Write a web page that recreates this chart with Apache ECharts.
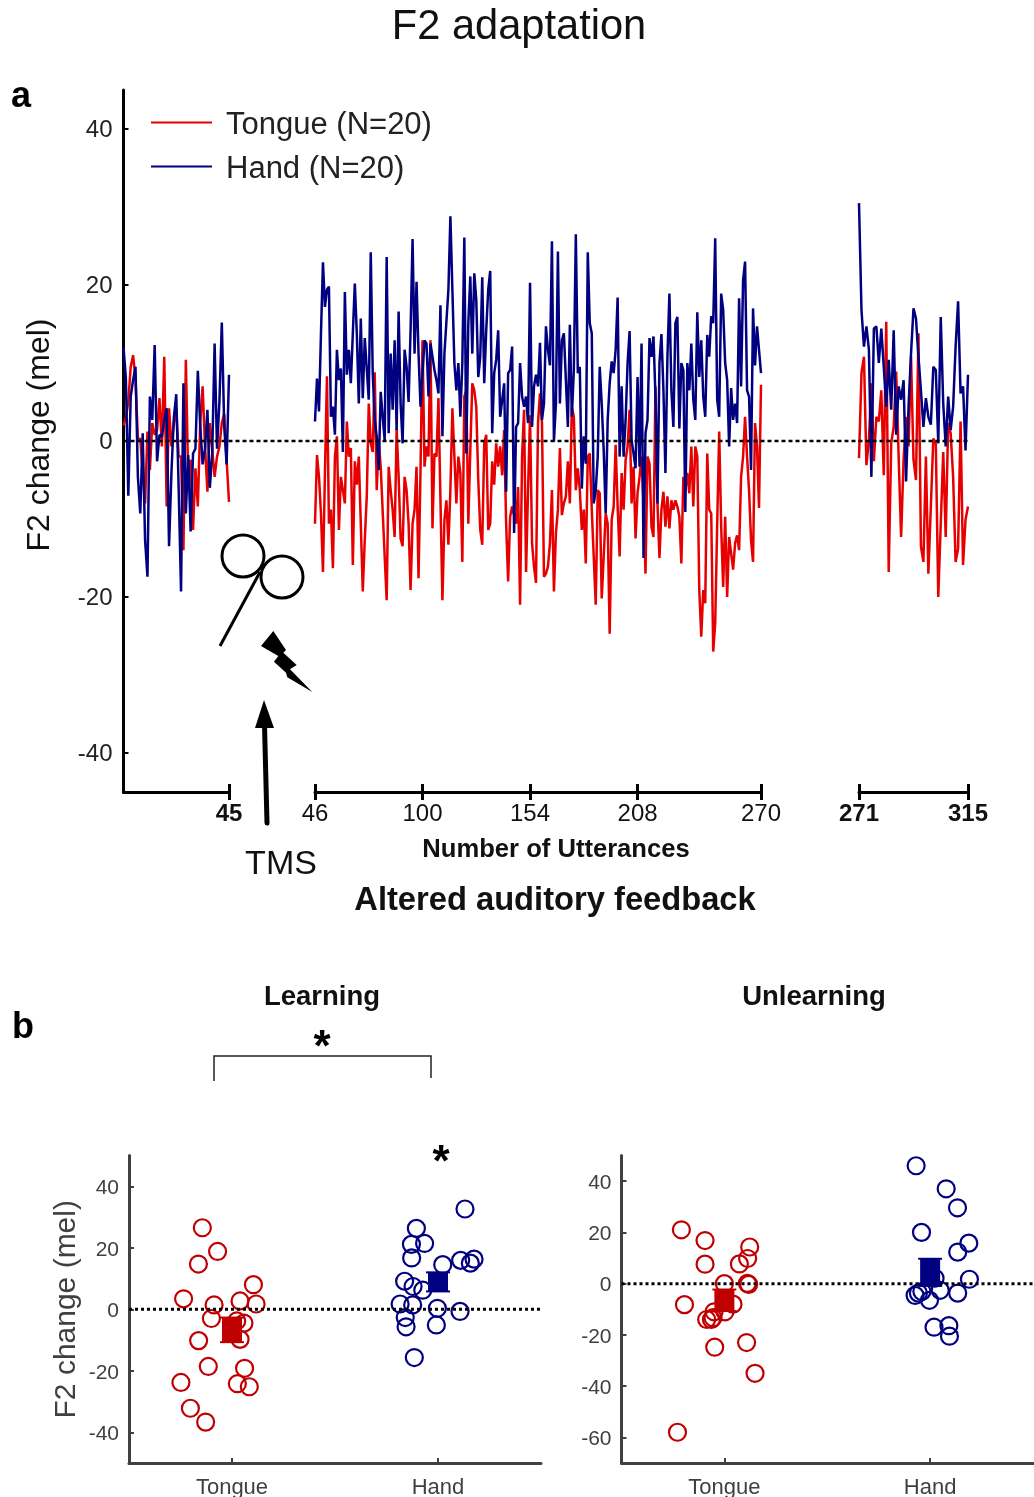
<!DOCTYPE html>
<html>
<head>
<meta charset="utf-8">
<style>html,body{margin:0;padding:0;background:#fff}#c{width:1034px;height:1497px}</style>
<script src="https://cdn.jsdelivr.net/npm/echarts@6/dist/echarts.min.js"></script>
</head>
<body>
<div id="c"></div>
<script>
const preHand = [12,8,-7,5.7,7.8,9.5,-4.6,-9.3,1,-12.7,-17.4,5.7,2.7,12.3,-2.6,0.8,0.5,2.7,4.2,-13.5,-4,3,6,-6,-19.3,7.4,-9.3,-1.8,-11.6,-1.6,-1,9,2,-3,-1,4,-6,-1.6,12.5,-1,5,15.2,2,-3,8.5];
const preTongue = [2,3,5,9.5,11,8,0.3,0.3,-4,-8,1.2,-3.7,2.3,0.8,1.4,5.5,-0.7,10.8,-8.4,4.2,-0.7,2.3,4,-2,-2,-14,10.4,-5,-2.4,-11.4,-3.5,-8.4,2.3,7,-0.7,-6.5,2.3,-1,-4.6,-2,-0.7,2.3,3.5,-2.4,-7.8];
const adaptHand = [2.5,8,3.8,13.8,22.9,17.2,19.4,19.8,3.1,4.4,0.8,11.7,7.8,9.3,-1.4,19.1,8.5,11.7,7.4,13.8,20.2,13.8,4.8,15.7,5.5,13.2,13.2,5.3,24.2,8.7,2.7,0.6,-3.7,6.3,3.1,0.1,23.6,1,11.2,4,12.9,1.4,16.6,4.8,-0.3,11.7,9.5,5,14.2,25.9,11.2,20.4,11.2,4.4,4.4,12.9,12.5,5.7,12.5,10.8,9.1,7.8,6.1,
17.4,0.6,11.2,11.2,19.4,28.8,19.4,10,6.5,10,3.1,10,26.1,-1.6,15.1,21.1,11.2,21.5,18.1,8.2,10.8,21,7.4,14.2,19.4,21.8,1,8.7,10.4,14.2,3.1,3.1,7.4,-6.5,8.7,9.1,12.1,-11.8,1.8,2.3,10,5.7,4.4,5.7,2.3,20.3,1.8,7,8.5,7,12.6,2.7,4.8,14.7,11.7,9.7,25.6,-0.1,4.8,24.3,4.8,12.9,13.8,14,1.8,14.9,3.1,9.1,26.5,8.7,9.5,-6.1,0.6,-2.9,24.2,15.1,13.8,-8,-6.3,-2,9.5,4.8,-1.2,-9.3,2.7,7.4,10.2,8.7,11.7,18.4,-2,7,-2,2.7,10,14.1,0.1,-1.6,-3.5,8.2,-3.3,12.5,-15,1,2.7,13.2,10.8,13.4,5.7,-8,10,13.7,6.5,-4.1,10.8,18.9,6.5,1.8,15.1,15.9,1.6,10,9.1,-9.1,10,6.5,12.5,5.3,2.7,16.5,8.2,12.9,5.7,3.1,13.6,10.8,16,15.1,26,5.3,3.1,18.9,16.8,10,7.8,-0.7,6.8,2.7,4.8,2.3,18.3,7,20.6,23,6.5,5.7,-3.7,17,9.7,14.7,11.7,8.7];
const adaptTongue = [-10.6,-1.8,-4.6,-9.3,-16.8,-4.1,8.3,-10.6,-8.8,-16.3,-2,0.6,-11.4,-4.6,-6.3,-8,2.5,-2,-0.9,-15.9,-2.6,-5.6,-2,-1.8,-19.3,-12.7,-7.1,4.8,-0.3,-1.4,8.8,-6.3,0.1,-3.3,-3.3,-14.8,-20.4,-3.3,-6.3,-8.8,-12.3,1.6,-4.6,-12.5,-13.5,-4.6,-6.3,-10.6,-19.1,-10.6,-8.8,-3.3,-17.6,-3.7,12.9,-3.3,-0.7,-2,12.9,-11.2,-1.6,-2,5.5,
5.3,-20.4,-10.1,-7.6,-13.3,-6.3,4.2,4.4,-8,-2,-4.1,-15.5,5.7,6.5,-10.6,-1.2,7.4,6.5,4.4,-5,-11.4,-13.3,-0.3,0.8,-11.4,-10.6,-2.6,-5.6,-0.3,-3.3,-0.7,-4.4,1.4,-10.6,-18,-9.7,-8.4,-8.2,-10.6,-5.9,-21,-2,4,-16.8,-6.3,3.3,-13.1,-16.1,-18.2,2.3,6.1,2.3,-17.4,-17,-16.1,-13.1,-6.3,-19.3,-11.8,-8.8,-0.9,-9.5,-8,-7.1,-2.6,-8,4.4,3.1,-6.3,-3.5,-6.3,-11.4,-8.8,-15.7,-2,-1.6,-8.8,-8.8,-21,-6.3,-6.7,-20.2,-14.8,-9.3,-10.6,-24.7,-10.1,-8.4,-0.5,-8.4,-14.8,-4.1,-8.8,-2.4,-0.7,4,-8,-3.3,-12.5,-6.7,-4.6,-2,-8,-17,-2,-2.9,-11,-12.3,7,-8,-15,-8.8,-6.5,-11,-7.1,-11.2,-7.6,-8.8,-7.6,-8.4,-9.7,-15.7,-4.6,-6.3,-4.1,-6.7,-0.7,-8.4,-0.7,-2,-19.1,-25.1,-19.1,-20.8,-1.6,-8.8,-9.3,-27,-23.4,-10.6,1.2,-11,-18.7,-9.7,-20,-12.3,-12.3,-16.5,-13.1,-12.1,-14,-4.6,-2,3.1,-2,-6.3,-12.7,-15.5,2.3,-0.7,-8.6,7.2];
const postHand = [30.5,16.8,12.1,14.7,11.7,-4.6,14.4,14.7,10,14.4,9.5,4.4,10.4,4,14.2,0.8,7,5.3,7.8,-5.2,4.4,11.2,17,15.7,10.8,6.5,1.8,5.5,3.1,2.1,9.5,9.1,-0.3,15.9,4.8,-0.7,5.7,1.4,4.4,12.1,17.9,6.1,7,-1.2,8.5];
const postTongue = [-2.2,8.7,10.8,-3.1,0.1,7.4,-2.6,3.1,2.5,6.5,-4.4,15.3,-16.8,-0.3,1.8,8.9,-2,-12.3,-2.4,3.1,-0.7,10.8,-2.4,-5,13.8,-13.5,-15.5,-2,-17,-8.4,0.3,-0.3,-20,-10.6,-1.4,-12.3,2.3,1,-4.6,-15.5,-13.8,2.5,-15.9,-10.1,-8.4];
const learnTongue = [[0.856,26.5],[0.93,18.8],[0.837,14.7],[0.765,3.4],[1.104,8],[0.913,1.4],[1.039,2.7],[1.117,1.7],[0.9,-3],[1.058,-4.5],[1.023,-3.8],[0.838,-10.2],[1.039,-9.8],[0.885,-18.6],[1.061,-19.2],[0.752,-23.8],[1.026,-24.2],[1.084,-25.2],[0.798,-32.2],[0.872,-36.7]];
const learnHand = [[2.131,32.6],[1.895,26.3],[1.871,21.1],[1.935,21.4],[1.872,16.7],[2.023,14.5],[2.11,15.9],[2.175,16.3],[2.157,15],[1.838,9.1],[1.879,7.4],[1.926,6.2],[1.816,1.7],[1.877,1.4],[1.997,0.3],[2.107,-0.7],[1.841,-2.7],[1.845,-5.7],[1.992,-5.1],[1.885,-15.7]];
const unlearnTongue = [[0.791,21],[0.906,16.8],[0.906,7.6],[1.123,14.3],[1.113,9.8],[1.073,7.7],[1,0],[1.118,-0.3],[1.112,0.1],[0.806,-8.2],[1.042,-8],[0.95,-11],[1.003,-11],[0.945,-13.3],[0.914,-14],[0.937,-14],[1.108,-23],[0.953,-24.8],[1.149,-35],[0.772,-58]];
const unlearnHand = [[1.932,46],[2.078,37],[2.133,29.6],[1.958,20],[2.188,15.8],[2.134,12.3],[2.191,1.7],[2.024,2.1],[2.049,-2.6],[2.134,-3.7],[1.96,-3.1],[1.943,-3.7],[1.927,-4.6],[1.997,-6.5],[2.019,-17],[2.091,-16.4],[2.094,-20.5]];
const learnMeans = [[1,-6.7,4],[2,8.9,3.1]];
const unlearnMeans = [[1,-6.5,4.2],[2,4.4,5.3]];
const groupLabels = ['Tongue','Hand'];
const nameT = 'Tongue (N=20)', nameH = 'Hand (N=20)';
const RED='#e60000', DRED='#c00000', BLUE='#000080', FONT='"Liberation Sans",Arial,sans-serif';

const pairs=(arr,start)=>arr.map((v,i)=>[start+i,v]);
const chart=echarts.init(document.getElementById('c'),null,{renderer:'canvas'});

const aTop=90,aH=702,bTop=1155.5,bH=307.5;
const segs=[{l:123.5,w:105.5,min:1,max:45,ticks:[45],bold:true,hand:preHand,tongue:preTongue},
            {l:315,w:446,min:46,max:270,ticks:[46,100,154,208,270],bold:false,hand:adaptHand,tongue:adaptTongue},
            {l:859,w:109,min:271,max:315,ticks:[271,315],bold:true,hand:postHand,tongue:postTongue}];
const grid=[],xAxis=[],yAxis=[],series=[];
segs.forEach((s,k)=>{
  grid.push({left:s.l,top:aTop,width:s.w,height:aH,outerBoundsMode:'none'});
  xAxis.push({type:'value',gridIndex:k,min:s.min,max:s.max,position:'bottom',splitLine:{show:false},
    axisLine:{show:true,onZero:false,lineStyle:{color:'#000',width:3}},
    axisTick:{show:true,length:8,customValues:s.ticks,lineStyle:{color:'#000',width:3}},
    axisLabel:{show:true,customValues:s.ticks,margin:10,fontSize:24,fontFamily:FONT,color:'#111',fontWeight:s.bold?'bold':'normal',hideOverlap:false}});
  yAxis.push({type:'value',gridIndex:k,min:-45,max:45,show:k===0,splitLine:{show:false},
    axisLine:{show:true,onZero:false,lineStyle:{color:'#000',width:3}},
    axisTick:{show:true,inside:true,length:5,customValues:[-40,-20,0,20,40],lineStyle:{color:'#000',width:2}},
    axisLabel:{customValues:[-40,-20,0,20,40],formatter:v=>'{a|'+v+'}',margin:11,
      rich:{a:{fontSize:24,fontFamily:FONT,color:'#222',padding:[2,0,0,0]}}}});
  series.push({name:nameT,type:'line',xAxisIndex:k,yAxisIndex:k,data:pairs(s.tongue,s.min),showSymbol:false,symbol:'none',lineStyle:{color:RED,width:2.5},itemStyle:{color:RED},z:2,animation:false});
  series.push({name:nameH,type:'line',xAxisIndex:k,yAxisIndex:k,data:pairs(s.hand,s.min),showSymbol:false,symbol:'none',lineStyle:{color:BLUE,width:2.5},itemStyle:{color:BLUE},z:3,animation:false});
});
// inward half of the ticks that cross the panel-a baseline
segs.forEach((s,k)=>{
  xAxis.push({type:'value',gridIndex:k,min:s.min,max:s.max,position:'bottom',splitLine:{show:false},
    axisLine:{show:false,onZero:false},axisLabel:{show:false},
    axisTick:{show:true,inside:true,length:8,customValues:s.ticks,lineStyle:{color:'#000',width:3}}});
});
// overlay for the dashed zero line across panel a
grid.push({left:123.5,top:aTop,width:844.5,height:aH,outerBoundsMode:'none'});
xAxis.push({type:'value',gridIndex:3,min:0,max:1,show:false,splitLine:{show:false}});
yAxis.push({type:'value',gridIndex:3,min:-45,max:45,show:false,splitLine:{show:false}});
const xZeroA=xAxis.length-1;
series.push({type:'line',xAxisIndex:xZeroA,yAxisIndex:3,data:[[0,0],[1,0]],symbol:'none',lineStyle:{color:'#000',width:2.5,type:[4,3]},z:5,animation:false,silent:true});

// panels b
const panels=[{l:129,w:412,min:-50,max:50,ticks:[-40,-20,0,20,40],t:learnTongue,h:learnHand,m:learnMeans,title:'F2 change (mel)'},
              {l:621.5,w:411.5,min:-70,max:50,ticks:[-60,-40,-20,0,20,40],t:unlearnTongue,h:unlearnHand,m:unlearnMeans,title:''}];
const G='#404040';
panels.forEach(p=>{
  const g=grid.length;
  grid.push({left:p.l,top:bTop,width:p.w,height:bH,outerBoundsMode:'none'});
  const xi=xAxis.length,yi=yAxis.length;
  xAxis.push({type:'value',gridIndex:g,min:0.5,max:2.5,splitLine:{show:false},
    axisLine:{show:true,onZero:false,lineStyle:{color:G,width:3}},
    axisTick:{show:true,inside:true,length:5,customValues:[1,2],lineStyle:{color:G,width:2}},
    axisLabel:{customValues:[1,2],formatter:v=>groupLabels[Math.round(v)-1],fontSize:22,fontFamily:FONT,color:G,margin:14}});
  yAxis.push({type:'value',gridIndex:g,min:p.min,max:p.max,splitLine:{show:false},
    name:p.title,nameLocation:'middle',nameGap:47,nameTextStyle:{fontSize:30,fontFamily:FONT,color:G},
    axisLine:{show:true,onZero:false,lineStyle:{color:G,width:3}},
    axisTick:{show:true,inside:true,length:5,customValues:p.ticks,lineStyle:{color:G,width:2}},
    axisLabel:{customValues:p.ticks,formatter:v=>'{a|'+v+'}',margin:10,
      rich:{a:{fontSize:21,fontFamily:FONT,color:G,padding:[4,0,0,0]}}}});
  const sc=(data,c)=>({type:'scatter',xAxisIndex:xi,yAxisIndex:yi,data,symbol:'circle',symbolSize:17,itemStyle:{color:'rgba(255,255,255,0)',borderColor:c,borderWidth:2.2,opacity:1},z:3,animation:false,silent:true});
  series.push(sc(p.t,DRED),sc(p.h,BLUE));
  series.push({type:'line',xAxisIndex:xi,yAxisIndex:yi,data:[[0.5,0],[2.5,0]],symbol:'none',lineStyle:{color:'#000',width:3,type:[3,3]},z:4,animation:false,silent:true});
  const cols=[DRED,BLUE];
  p.m.forEach((m,i)=>{
    series.push({type:'line',xAxisIndex:xi,yAxisIndex:yi,data:[[m[0],m[1]-m[2]],[m[0],m[1]+m[2]]],symbol:'none',lineStyle:{color:cols[i],width:20,cap:'butt'},z:6,animation:false,silent:true});
    series.push({type:'scatter',xAxisIndex:xi,yAxisIndex:yi,data:[[m[0],m[1]-m[2]],[m[0],m[1]+m[2]]],symbol:'rect',symbolSize:[24,2],itemStyle:{color:cols[i],opacity:1},z:6,animation:false,silent:true});
  });
});

const txt=(text,x,y,size,opt={})=>Object.assign({type:'text',x,y,z:20},{style:Object.assign({text,fontSize:size,fontFamily:FONT,fill:'#111',textAlign:'center',textVerticalAlign:'middle'},opt.style||{})},opt.el||{});
const bold={style:{fontWeight:'bold'}};
const graphic=[
  txt('F2 adaptation',519,28,41.6),
  txt('a',21,97,36,{style:{fontWeight:'bold',fill:'#000'}}),
  txt('b',23,1028,36,{style:{fontWeight:'bold',fill:'#000'}}),
  txt('F2 change (mel)',40,435,32,{el:{rotation:Math.PI/2}}),
  txt('Number of Utterances',556,850,25.6,bold),
  txt('Altered auditory feedback',555,901,32.7,bold),
  txt('TMS',281,865,34),
  txt('Learning',322,997,27.5,bold),
  txt('Unlearning',814,997,27.5,bold),
  txt('*',322,1049,44,{style:{fontWeight:'bold',fill:'#000'}}),
  txt('*',441,1164,44,{style:{fontWeight:'bold',fill:'#000'}}),
  {type:'polyline',z:20,shape:{points:[[214,1081],[214,1056],[431,1056],[431,1078]]},style:{stroke:'#222',lineWidth:1.5,fill:null}},
  {type:'circle',z:20,shape:{cx:243,cy:556,r:21},style:{stroke:'#000',lineWidth:3,fill:null}},
  {type:'circle',z:20,shape:{cx:282,cy:577,r:21},style:{stroke:'#000',lineWidth:3,fill:null}},
  {type:'line',z:20,shape:{x1:220,y1:646,x2:260,y2:572},style:{stroke:'#000',lineWidth:3}},
  {type:'polygon',z:20,shape:{points:[[273.3,631],[286,650],[283.3,652.7],[296.7,665],[290,669.3],[312.3,692],[287.3,677.3],[286,672.7],[274,661.7],[278.3,656],[261,646]]},style:{fill:'#000'}},
  {type:'line',z:20,shape:{x1:267,y1:823,x2:264.5,y2:725},style:{stroke:'#000',lineWidth:5,lineCap:'round'}},
  {type:'polygon',z:20,shape:{points:[[264,700],[274,728],[255,728]]},style:{fill:'#000'}}
];

chart.setOption({
  animation:false,backgroundColor:'#fff',
  legend:{show:true,data:[nameT,nameH],orient:'vertical',left:146,top:105,itemWidth:61,itemHeight:14,itemGap:13,icon:'path://M0,0 L61,0 L61,2 L0,2 Z M0,8 L61,8 L61,8 Z',
    textStyle:{fontSize:31,fontFamily:FONT,color:'#222',padding:[0,0,0,9]},selectedMode:false},
  grid,xAxis,yAxis,series,graphic
});
</script>
</body>
</html>
